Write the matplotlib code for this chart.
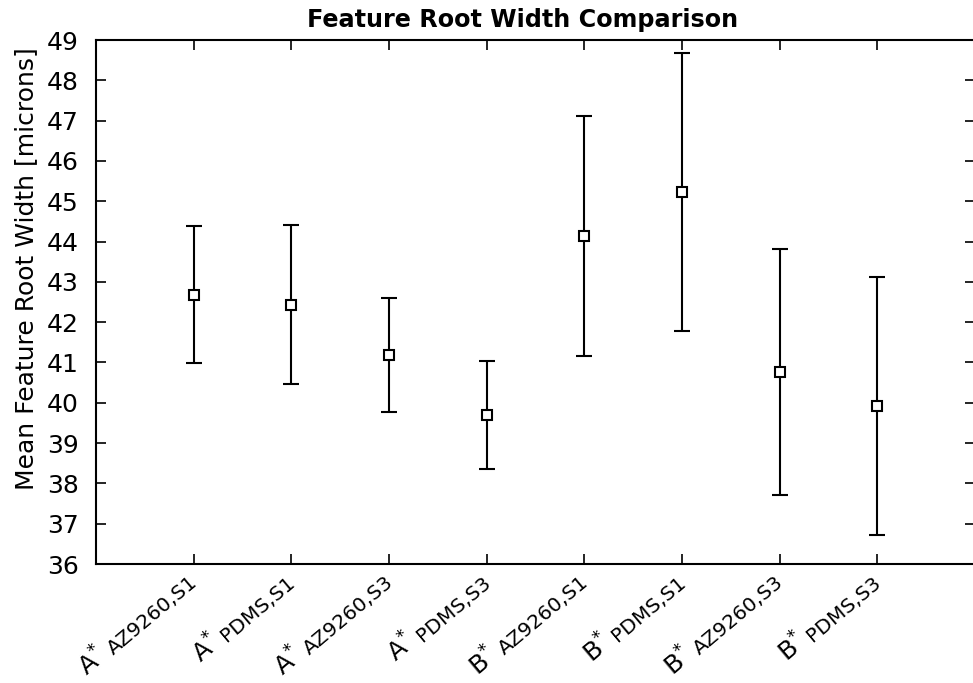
import numpy as np
import matplotlib
matplotlib.use("Agg")
import matplotlib.pyplot as plt
from matplotlib import transforms

plt.rcParams['font.family'] = ['DejaVu Sans']
plt.rcParams['mathtext.fontset'] = 'dejavusans'

# Sample groups: mask prefix and process/sample suffix
prefixes = ["A", "A", "A", "A", "B", "B", "B", "B"]
suffixes = ["AZ9260,S1", "PDMS,S1", "AZ9260,S3", "PDMS,S3",
            "AZ9260,S1", "PDMS,S1", "AZ9260,S3", "PDMS,S3"]

# Mean root width and error bar bounds [microns]
means = [42.68, 42.43, 41.19, 39.69, 44.14, 45.23, 40.76, 39.91]
lower = [40.98, 40.46, 39.77, 38.35, 41.16, 41.77, 37.71, 36.72]
upper = [44.38, 44.40, 42.61, 41.03, 47.11, 48.68, 43.81, 43.11]

W, H = 973, 683
fig = plt.figure(figsize=(W / 100, H / 100), dpi=100)
ax = fig.add_axes([96 / W, 1 - 564 / H, (975 - 96) / W, (564 - 40) / H])

x = np.arange(1, len(means) + 1)
m = np.array(means)
yerr = np.vstack([m - np.array(lower), np.array(upper) - m])
ax.errorbar(x, m, yerr=yerr, fmt='s', color='black', mfc='white', mec='black',
            ms=7.5, mew=1.5, elinewidth=1.5, capsize=5.5, capthick=1.5, zorder=3)

ax.set_xlim(0, 9)
ax.set_ylim(36, 49)
ax.set_yticks(np.arange(36, 50, 1))
ax.set_xticks(x)
ax.set_xticklabels([])
ax.tick_params(axis='both', direction='in', length=7, width=1.2,
               top=True, right=True, labelsize=18, pad=12.5)
for s in ax.spines.values():
    s.set_linewidth(1.5)

ax.set_ylabel("Mean Feature Root Width [microns]", fontsize=18)
ax.yaxis.set_label_coords(-0.066, 0.563)

fig.text(523 / W, 1 - 27 / H, "Feature Root Width Comparison", fontsize=17.2,
         fontweight='bold', ha='center', va='baseline')

# Rotated two-part category labels
renderer = fig.canvas.get_renderer()
rot = 40
ang = np.deg2rad(rot)
suf_size, pre_size = 14.5, 18
dx0, dy0 = 5, -20
for xi, pre, suf in zip(x, prefixes, suffixes):
    base = transforms.offset_copy(ax.get_xaxis_transform(), fig=fig,
                                  x=dx0, y=dy0, units='dots')
    ax.text(xi, 0, suf, transform=base, rotation=rot, rotation_mode='anchor',
            ha='right', va='baseline', fontsize=suf_size)
    tmp = fig.text(0, 0, suf, fontsize=suf_size)
    w = tmp.get_window_extent(renderer).width
    tmp.remove()
    d = w + 6
    pt = transforms.offset_copy(ax.get_xaxis_transform(), fig=fig,
                                x=dx0 - d * np.cos(ang), y=dy0 - d * np.sin(ang),
                                units='dots')
    ax.text(xi, 0, r"$\mathregular{%s^{*}}$" % pre, transform=pt, rotation=rot,
            rotation_mode='anchor', ha='right', va='baseline', fontsize=pre_size)

fig.savefig("out.png", dpi=100)
